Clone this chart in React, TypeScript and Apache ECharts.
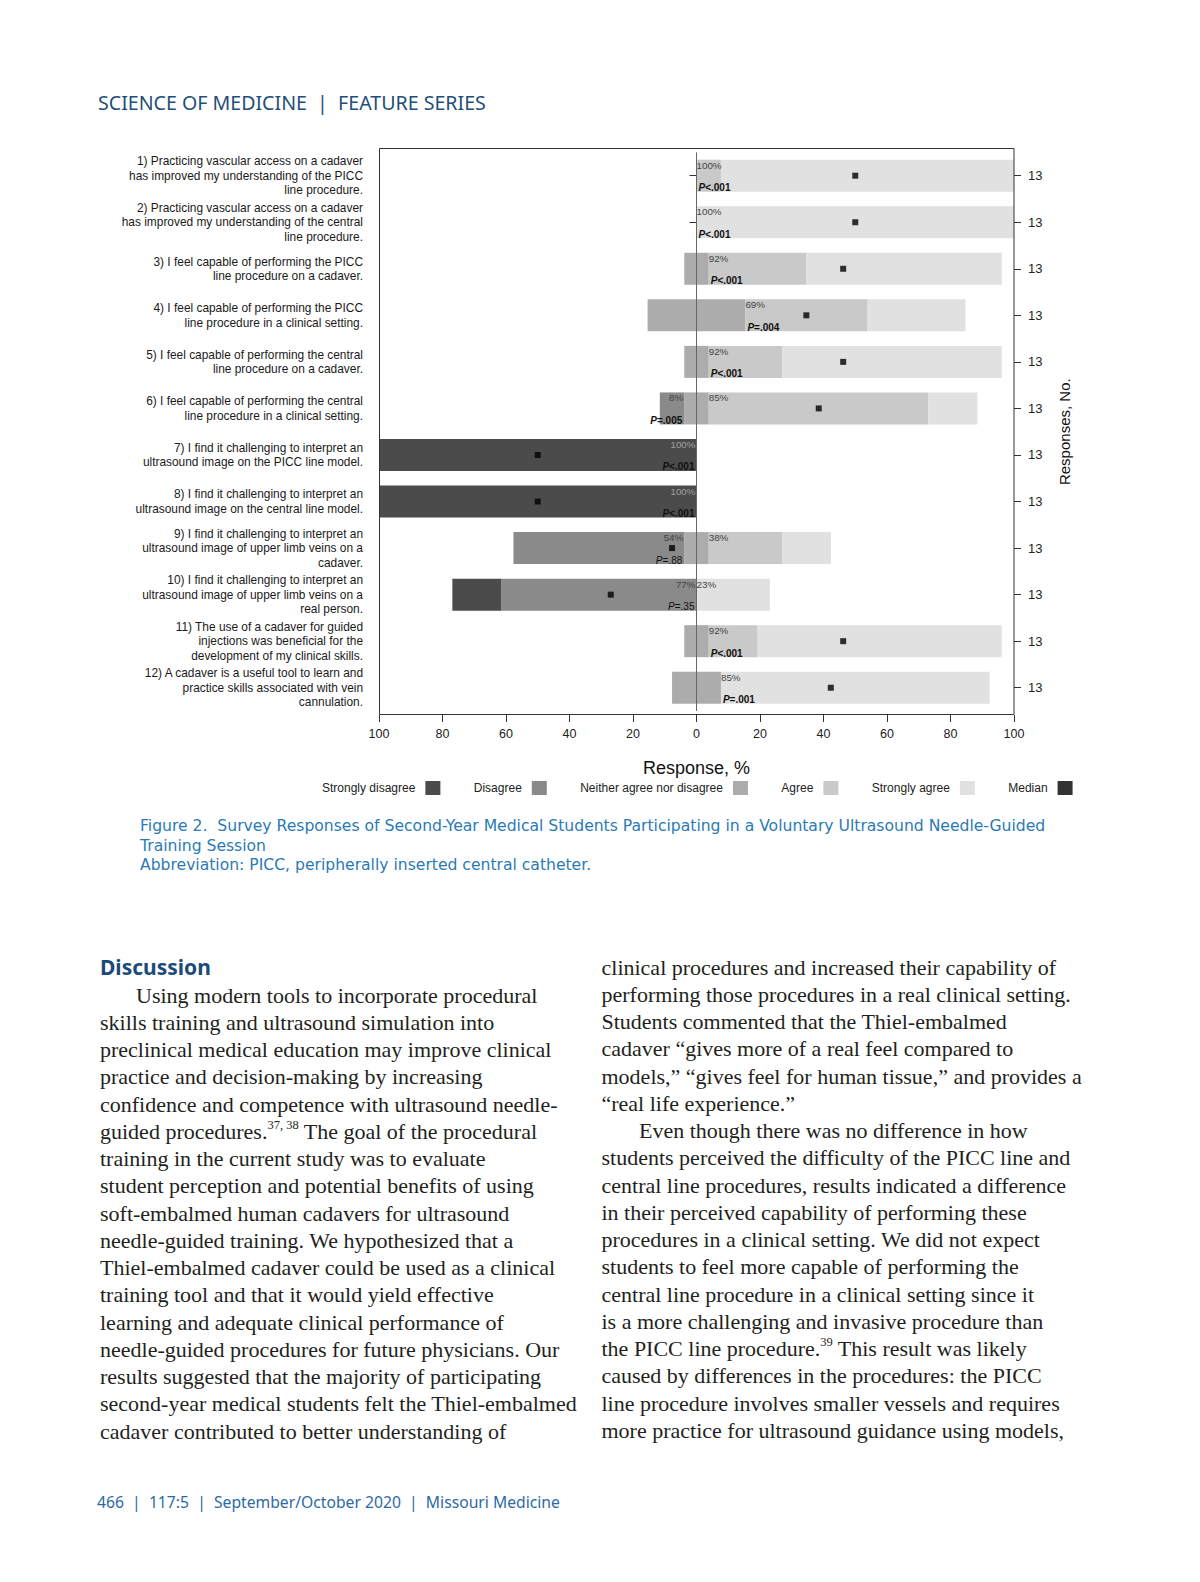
import React, { useEffect, useRef } from 'react';
import * as echarts from 'echarts';

const questions = [
  '1) Practicing vascular access on a cadaver\nhas improved my understanding of the PICC\nline procedure.',
  '2) Practicing vascular access on a cadaver\nhas improved my understanding of the central\nline procedure.',
  '3) I feel capable of performing the PICC\nline procedure on a cadaver.',
  '4) I feel capable of performing the PICC\nline procedure in a clinical setting.',
  '5) I feel capable of performing the central\nline procedure on a cadaver.',
  '6) I feel capable of performing the central\nline procedure in a clinical setting.',
  '7) I find it challenging to interpret an\nultrasound image on the PICC line model.',
  '8) I find it challenging to interpret an\nultrasound image on the central line model.',
  '9) I find it challenging to interpret an\nultrasound image of upper limb veins on a\ncadaver.',
  '10) I find it challenging to interpret an\nultrasound image of upper limb veins on a\nreal person.',
  '11) The use of a cadaver for guided\ninjections was beneficial for the\ndevelopment of my clinical skills.',
  '12) A cadaver is a useful tool to learn and\npractice skills associated with vein\ncannulation.',
];
const responses = [13, 13, 13, 13, 13, 13, 13, 13, 13, 13, 13, 13];
const stronglyDisagree = [0, 0, 0, 0, 0, 0, 100, 100, 0, 15.4, 0, 0];
const disagree = [0, 0, 0, 0, 0, 7.7, 0, 0, 53.8, 61.5, 0, 0];
const neutral = [0, 0, 7.7, 30.8, 7.7, 7.7, 0, 0, 7.7, 0, 7.7, 15.4];
const agree = [7.7, 0, 30.8, 38.5, 23.1, 69.2, 0, 0, 23.1, 0, 15.4, 0];
const stronglyAgree = [92.3, 100, 61.5, 30.8, 69.2, 15.4, 0, 0, 15.4, 23.1, 76.9, 84.6];
const median = [50, 50, 46.2, 34.6, 46.2, 38.5, -50, -50, -7.7, -27, 46.2, 42.3];
const agreeLabels = ['100%', '100%', '92%', '69%', '92%', '85%', '', '', '38%', '23%', '92%', '85%'];
const disagreeLabels = ['', '', '', '', '', '8%', '100%', '100%', '54%', '77%', '', ''];
const pValues = ['P<.001', 'P<.001', 'P<.001', 'P=.004', 'P<.001', 'P=.005', 'P<.001', 'P<.001', 'P=.88', 'P=.35', 'P<.001', 'P=.001'];
const pSide = ['right', 'right', 'right', 'right', 'right', 'left', 'left', 'left', 'left', 'left', 'right', 'right'];
const pSignificant = [true, true, true, true, true, true, true, true, false, false, true, true];
const legendNames = ['Strongly disagree', 'Disagree', 'Neither agree nor disagree', 'Agree', 'Strongly agree', 'Median'];

const headerText = 'SCIENCE OF MEDICINE  |  FEATURE SERIES';
const captionLines = [
  'Figure 2.  Survey Responses of Second-Year Medical Students Participating in a Voluntary Ultrasound Needle-Guided',
  'Training Session',
  'Abbreviation: PICC, peripherally inserted central catheter.',
];
const headingText = 'Discussion';
const col1Lines = [
  'Using modern tools to incorporate procedural',
  'skills training and ultrasound simulation into',
  'preclinical medical education may improve clinical',
  'practice and decision-making by increasing',
  'confidence and competence with ultrasound needle-',
  'guided procedures.{sup|37, 38} The goal of the procedural',
  'training in the current study was to evaluate',
  'student perception and potential benefits of using',
  'soft-embalmed human cadavers for ultrasound',
  'needle-guided training. We hypothesized that a',
  'Thiel-embalmed cadaver could be used as a clinical',
  'training tool and that it would yield effective',
  'learning and adequate clinical performance of',
  'needle-guided procedures for future physicians. Our',
  'results suggested that the majority of participating',
  'second-year medical students felt the Thiel-embalmed',
  'cadaver contributed to better understanding of',
];
const col1Indent = [true, false, false, false, false, false, false, false, false, false, false, false, false, false, false, false, false];
const col2Lines = [
  'clinical procedures and increased their capability of',
  'performing those procedures in a real clinical setting.',
  'Students commented that the Thiel-embalmed',
  'cadaver \u201cgives more of a real feel compared to',
  'models,\u201d \u201cgives feel for human tissue,\u201d and provides a',
  '\u201creal life experience.\u201d',
  'Even though there was no difference in how',
  'students perceived the difficulty of the PICC line and',
  'central line procedures, results indicated a difference',
  'in their perceived capability of performing these',
  'procedures in a clinical setting. We did not expect',
  'students to feel more capable of performing the',
  'central line procedure in a clinical setting since it',
  'is a more challenging and invasive procedure than',
  'the PICC line procedure.{sup|39} This result was likely',
  'caused by differences in the procedures: the PICC',
  'line procedure involves smaller vessels and requires',
  'more practice for ultrasound guidance using models,',
];
const col2Indent = [false, false, false, false, false, false, true, false, false, false, false, false, false, false, false, false, false, false];
const footerText = '466  |  117:5  |  September/October 2020  |  Missouri Medicine';

const SANS = '"Liberation Sans", Arial, sans-serif';
const SERIF = '"Liberation Serif", "DejaVu Serif", serif';
const GOTHIC = '"Noto Sans", "Open Sans", sans-serif';
const CAPTION = '"DejaVu Sans", "Noto Sans", sans-serif';

const C = {
  sd: '#4b4b4b',
  d: '#8a8a8a',
  n: '#acacac',
  a: '#c9c9c9',
  sa: '#e1e1e2',
};

function textEl(x: number, y: number, text: string, style: any) {
  return {
    type: 'text',
    x,
    y,
    silent: true,
    style: {
      text,
      align: 'left',
      verticalAlign: 'middle',
      textAlign: 'left',
      textVerticalAlign: 'middle',
      ...style,
    },
  };
}

function buildOption() {
  const half = neutral.map((v) => v / 2);
  const labelItems: any[] = [];
  for (let i = 0; i < questions.length; i++) {
    const h = half[i];
    if (agreeLabels[i]) labelItems.push({ x: h, row: i, text: agreeLabels[i], side: 'right', kind: 'pct', onDark: false });
    if (disagreeLabels[i]) {
      const onDark = disagree[i] === 0 && stronglyDisagree[i] > 0;
      labelItems.push({ x: -h, row: i, text: disagreeLabels[i], side: 'left', kind: 'pct', onDark });
    }
    labelItems.push({ x: pSide[i] === 'right' ? h : -h, row: i, text: pValues[i], side: pSide[i], kind: 'p', bold: pSignificant[i] });
  }

  const barBase = {
    type: 'bar',
    stack: 'resp',
    barWidth: 32,
    silent: true,
    xAxisIndex: 0,
    yAxisIndex: 0,
  };

  const bodyStyle = { fontFamily: SERIF, fontSize: 22, fill: '#231f20', lineHeight: 26, rich: { sup: { fontFamily: SERIF, fontSize: 12.5, fill: '#231f20', lineHeight: 14, verticalAlign: 'top' } } };

  const elements: any[] = [];
  elements.push(textEl(98, 102, headerText, { fontFamily: GOTHIC, fontSize: 19.6, fill: '#1f4e79' }));
  captionLines.forEach((t, k) => {
    elements.push(textEl(140, 826 + k * 19.5, t, { fontFamily: CAPTION, fontSize: 15.6, lineHeight: 18, fill: '#2a7ab5' }));
  });
  elements.push(textEl(100, 967, headingText, { fontFamily: GOTHIC, fontSize: 21, fontWeight: 'bold', fill: '#1b4a7a' }));
  col1Lines.forEach((t, k) => {
    elements.push(textEl(col1Indent[k] ? 136 : 100, 995 + k * 27.25, t, bodyStyle));
  });
  col2Lines.forEach((t, k) => {
    elements.push(textEl(col2Indent[k] ? 639 : 601.5, 967 + k * 27.25, t, bodyStyle));
  });
  elements.push(textEl(97, 1502, footerText, { fontFamily: GOTHIC, fontSize: 15.7, fill: '#2d6aa5' }));
  elements.push({
    type: 'rect',
    silent: true,
    z: 100,
    shape: { x: 379.5, y: 148.5, width: 634.5, height: 566 },
    style: { fill: 'none', stroke: '#333', lineWidth: 1 },
  });

  return {
    animation: false,
    backgroundColor: '#ffffff',
    textStyle: { fontFamily: SANS },
    grid: { left: 379, top: 152.4, width: 635, height: 558.6, outerBoundsMode: 'none', containLabel: false },
    legend: {
      left: 322,
      top: 781,
      padding: 0,
      itemWidth: 15,
      itemHeight: 14,
      itemGap: 33.4,
      align: 'right',
      icon: 'rect',
      selectedMode: false,
      data: legendNames,
      textStyle: { fontFamily: SANS, fontSize: 12, color: '#222', padding: [0, 5, 0, 0] },
    },
    xAxis: {
      type: 'value',
      min: -100,
      max: 100,
      interval: 20,
      offset: 4,
      axisLine: { show: false },
      axisTick: { show: true, length: 7, lineStyle: { color: '#333' } },
      splitLine: { show: false },
      axisLabel: { formatter: (v: number) => String(Math.abs(v)), fontSize: 12.5, color: '#222', margin: 12, fontFamily: SANS },
      name: 'Response, %',
      nameLocation: 'middle',
      nameGap: 44,
      nameTextStyle: { fontSize: 18, color: '#111', fontFamily: SANS },
    },
    yAxis: [
      {
        type: 'category',
        data: questions,
        inverse: true,
        axisLine: { show: false },
        axisTick: { show: true, alignWithLabel: true, interval: 0, length: 7, lineStyle: { color: '#333' } },
        axisLabel: { interval: 0, fontSize: 11.9, lineHeight: 14.5, color: '#1a1a1a', margin: 16, fontFamily: SANS, align: 'right' },
        splitLine: { show: false },
      },
      {
        type: 'category',
        data: questions,
        inverse: true,
        position: 'right',
        axisLine: { show: false },
        axisTick: { show: true, alignWithLabel: true, interval: 0, length: 7, lineStyle: { color: '#333' } },
        axisLabel: { interval: 0, formatter: (_v: string, i: number) => String(responses[i]), fontSize: 13, color: '#222', margin: 14, fontFamily: SANS },
        splitLine: { show: false },
        name: 'Responses, No.',
        nameLocation: 'middle',
        nameRotate: 90,
        nameGap: 43,
        nameTextStyle: { fontSize: 15, color: '#111', fontFamily: SANS },
      },
    ],
    series: [
      {
        ...barBase,
        name: 'Neither agree nor disagree',
        data: half.map((v) => -v),
        itemStyle: { color: C.n },
        markLine: {
          silent: true,
          symbol: ['none', 'none'],
          label: { show: false },
          lineStyle: { color: '#666', width: 1, type: 'solid' },
          data: [{ xAxis: 0 }],
          z: 20,
        },
      },
      { ...barBase, name: 'Neither agree nor disagree', data: half, itemStyle: { color: C.n } },
      { ...barBase, name: 'Disagree', data: disagree.map((v) => -v), itemStyle: { color: C.d } },
      { ...barBase, name: 'Agree', data: agree, itemStyle: { color: C.a } },
      { ...barBase, name: 'Strongly disagree', data: stronglyDisagree.map((v) => -v), itemStyle: { color: C.sd } },
      { ...barBase, name: 'Strongly agree', data: stronglyAgree, itemStyle: { color: C.sa } },
      {
        name: 'Median',
        type: 'scatter',
        symbol: 'rect',
        symbolSize: 6,
        silent: true,
        z: 10,
        itemStyle: { color: '#000' },
        data: median.map((m, i) => [m, i]),
      },
      {
        name: 'labels',
        type: 'custom',
        silent: true,
        clip: false,
        z: 11,
        encode: { x: 0, y: 1 },
        data: labelItems.map((it) => [it.x, it.row]),
        renderItem: (params: any, api: any) => {
          const it = labelItems[params.dataIndex];
          const pt = api.coord([api.value(0), api.value(1)]);
          const isLeft = it.side === 'left';
          const align = isLeft ? 'right' : 'left';
          if (it.kind === 'pct') {
            return {
              type: 'text',
              x: pt[0] + (isLeft ? -1 : 0),
              y: pt[1] - 10.5,
              style: { text: it.text, fill: it.onDark ? '#a0a0a0' : '#444', fontSize: 9.8, fontFamily: SANS, align, verticalAlign: 'middle' },
            };
          }
          const w = it.bold ? 'bold' : 'normal';
          return {
            type: 'text',
            x: pt[0] + (isLeft ? -2 : 2),
            y: pt[1] + 12,
            style: {
              text: '{i|P}{r|' + it.text.slice(1) + '}',
              rich: {
                i: { fontStyle: 'italic', fontWeight: w, fontSize: 10, fill: '#111', fontFamily: SANS },
                r: { fontWeight: w, fontSize: 10, fill: '#111', fontFamily: SANS },
              },
              align,
              verticalAlign: 'middle',
            },
          };
        },
      },
    ],
    graphic: { elements },
  };
}

export default function App() {
  const ref = useRef<HTMLDivElement>(null);
  useEffect(() => {
    if (!ref.current) return;
    const chart = echarts.init(ref.current, undefined, { renderer: 'svg' });
    chart.setOption(buildOption() as any);
    return () => chart.dispose();
  }, []);
  return (
    <div
      ref={ref}
      style={{ position: 'absolute', left: 0, top: 0, width: 1200, height: 1582, background: '#fff' }}
    />
  );
}
